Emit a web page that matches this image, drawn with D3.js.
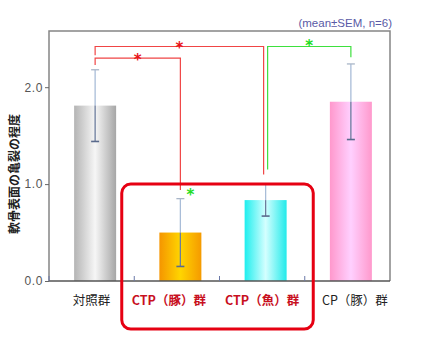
<!DOCTYPE html>
<html lang="ja">
<head>
<meta charset="UTF-8">
<title>軟骨表面の亀裂の程度</title>
<script src="https://d3js.org/d3.v7.min.js"></script>
<style>
  body { margin: 0; background: #fff; }
  svg { display: block; }
</style>
</head>
<body>
<svg id="chart" width="422" height="342"></svg>
<script>
// data
const categories = ["対照群", "CTP（豚）群", "CTP（魚）群", "CP（豚）群"];
const means = [1.81, 0.50, 0.835, 1.85];
const sems = [0.37, 0.35, 0.165, 0.39];
const yTicks = [0.0, 1.0, 2.0];
const highlighted = [false, true, true, false];
// brackets: from/to category index, top level, end levels
const brackets = [
  { from: 0, to: 1, top: 2.30, leftEnd: 2.23, rightEnd: 0.94, color: "#f04545" },
  { from: 0, to: 2, top: 2.42, leftEnd: 2.33, rightEnd: 1.10, color: "#f04545" },
  { from: 2, to: 3, top: 2.42, leftEnd: 1.15, rightEnd: 2.31, color: "#3ee03e" }
];

const svg = d3.select("#chart");
const pLeft = 49, pRight = 390, pTop = 31, pBottom = 281;

const x = d3.scaleBand().domain(categories).range([pLeft, pRight]).padding(0);
const y = d3.scaleLinear().domain([0, 2.58]).range([pBottom, pTop]);
const step = x.step();
const barW = 42;
const barShift = 3.5;
const cx = i => x(categories[i]) + step / 2 + barShift;

// gradients
const grads = [
  ["g0", "#b4b4b4", "#f6f6f6", "#a6a6a6"],
  ["g1", "#f59500", "#ffd500", "#f59a00"],
  ["g2", "#1eeeee", "#d4ffff", "#22eaea"],
  ["g3", "#ff98cc", "#ffd0ff", "#ff99cc"]
];
const defs = svg.append("defs");
grads.forEach(g => {
  const lg = defs.append("linearGradient").attr("id", g[0])
    .attr("x1", "0%").attr("x2", "100%").attr("y1", "0%").attr("y2", "0%");
  lg.append("stop").attr("offset", "0%").attr("stop-color", g[1]);
  lg.append("stop").attr("offset", "50%").attr("stop-color", g[2]);
  lg.append("stop").attr("offset", "100%").attr("stop-color", g[3]);
});

// bars
svg.selectAll(".bar").data(means).enter().append("rect")
  .attr("class", "bar")
  .attr("x", (d, i) => cx(i) - barW / 2)
  .attr("y", d => y(d))
  .attr("width", barW)
  .attr("height", d => y(0) - y(d))
  .attr("fill", (d, i) => `url(#g${i})`);

// error bars
const eb = svg.selectAll(".err").data(means).enter().append("g").attr("class", "err");
eb.append("line")
  .attr("x1", (d, i) => cx(i)).attr("x2", (d, i) => cx(i))
  .attr("y1", (d, i) => y(d + sems[i])).attr("y2", d => y(d))
  .attr("stroke", "#a9bdd8").attr("stroke-width", 1.3);
eb.append("line")
  .attr("x1", (d, i) => cx(i)).attr("x2", (d, i) => cx(i))
  .attr("y1", d => y(d)).attr("y2", (d, i) => y(d - sems[i]))
  .attr("stroke", "#6c7c9c").attr("stroke-width", 1.3);
eb.append("line")
  .attr("x1", (d, i) => cx(i) - 4).attr("x2", (d, i) => cx(i) + 4)
  .attr("y1", (d, i) => y(d + sems[i])).attr("y2", (d, i) => y(d + sems[i]))
  .attr("stroke", "#a9b6c8").attr("stroke-width", 1.3);
eb.append("line")
  .attr("x1", (d, i) => cx(i) - 4).attr("x2", (d, i) => cx(i) + 4)
  .attr("y1", (d, i) => y(d - sems[i])).attr("y2", (d, i) => y(d - sems[i]))
  .attr("stroke", "#5a6a8c").attr("stroke-width", 1.6);

// frame
svg.append("path")
  .attr("d", `M${pLeft},${pBottom}V${pTop}H${pRight}V${pBottom}`)
  .attr("fill", "none").attr("stroke", "#858585").attr("stroke-width", 1.5);
svg.append("line")
  .attr("x1", pLeft).attr("x2", pRight).attr("y1", pBottom).attr("y2", pBottom)
  .attr("stroke", "#555").attr("stroke-width", 1.6);

// y axis
const yAxis = svg.append("g").attr("transform", `translate(${pLeft},0)`)
  .call(d3.axisLeft(y).tickValues(yTicks).tickFormat(d3.format(".1f")).tickSize(4).tickPadding(2));
yAxis.select(".domain").remove();
yAxis.selectAll(".tick line").attr("stroke", "#666");
yAxis.selectAll(".tick text")
  .attr("fill", "#555").style("font-family", "'Liberation Sans', Arial, sans-serif")
  .style("font-size", "12px").style("letter-spacing", "0.6px");

// small x ticks at band boundaries
svg.selectAll(".xt").data(categories).enter().append("line")
  .attr("x1", d => x(d)).attr("x2", d => x(d))
  .attr("y1", pBottom).attr("y2", pBottom - 5)
  .attr("stroke", "#6a78a8").attr("stroke-width", 1);

// y title
svg.append("text")
  .attr("transform", `translate(13,174) rotate(-90)`)
  .attr("text-anchor", "middle").attr("dominant-baseline", "central")
  .style("font-family", "'Noto Sans CJK JP', sans-serif").style("font-weight", "bold")
  .style("font-size", "12px").attr("fill", "#222")
  .text("軟骨表面の亀裂の程度");

// x labels
const labelShift = [0, -8, 0, 7.5];
svg.selectAll(".xl").data(categories).enter().append("text")
  .attr("x", (d, i) => x(d) + step / 2 + labelShift[i])
  .attr("y", 299).attr("text-anchor", "middle").attr("dominant-baseline", "central")
  .style("font-family", "'Noto Sans CJK JP', sans-serif")
  .style("font-size", "12.5px")
  .style("font-weight", (d, i) => highlighted[i] ? "bold" : "normal")
  .attr("fill", (d, i) => highlighted[i] ? "#c8101e" : "#222")
  .text(d => d);

// significance brackets
const bx = (i, side) => cx(i) + (i === 2 ? side * 2 : 0);
brackets.forEach(b => {
  const x1 = bx(b.from, 1), x2 = bx(b.to, -1);
  const isRed = b.color === "#f04545";
  svg.append("path")
    .attr("d", `M${x1},${y(b.leftEnd)}V${y(b.top)}H${x2}V${y(b.rightEnd)}`)
    .attr("fill", "none").attr("stroke", b.color).attr("stroke-width", 1.2);
  svg.append("text")
    .attr("x", (x1 + x2) / 2).attr("y", y(b.top) + (isRed ? 6.5 : 4))
    .attr("text-anchor", "middle")
    .style("font-family", "'DejaVu Sans', sans-serif").style("font-weight", "bold")
    .style("font-size", "15px")
    .attr("fill", isRed ? "#e8141a" : "#22dd22")
    .text("*");
});
// extra star near CTP(豚)
svg.append("text")
  .attr("x", cx(1) + 10).attr("y", y(0.91) + 7)
  .attr("text-anchor", "middle")
  .style("font-family", "'DejaVu Sans', sans-serif").style("font-weight", "bold")
  .style("font-size", "15px").attr("fill", "#22dd22")
  .text("*");

// note
svg.append("text")
  .attr("x", 392).attr("y", 27).attr("text-anchor", "end")
  .style("font-family", "'Liberation Sans', Arial, sans-serif")
  .style("font-size", "11.5px").attr("fill", "#5a5aa6")
  .text("(mean±SEM, n=6)");

// highlight box around the CTP groups
const boxL = x(categories[1]) - 12.5;
const boxR = x(categories[2]) + step + 8.5;
svg.append("rect")
  .attr("x", boxL).attr("y", y(1.0))
  .attr("width", boxR - boxL).attr("height", 329 - y(1.0))
  .attr("rx", 9).attr("ry", 9)
  .attr("fill", "none").attr("stroke", "#e60012").attr("stroke-width", 3);
</script>
</body>
</html>
